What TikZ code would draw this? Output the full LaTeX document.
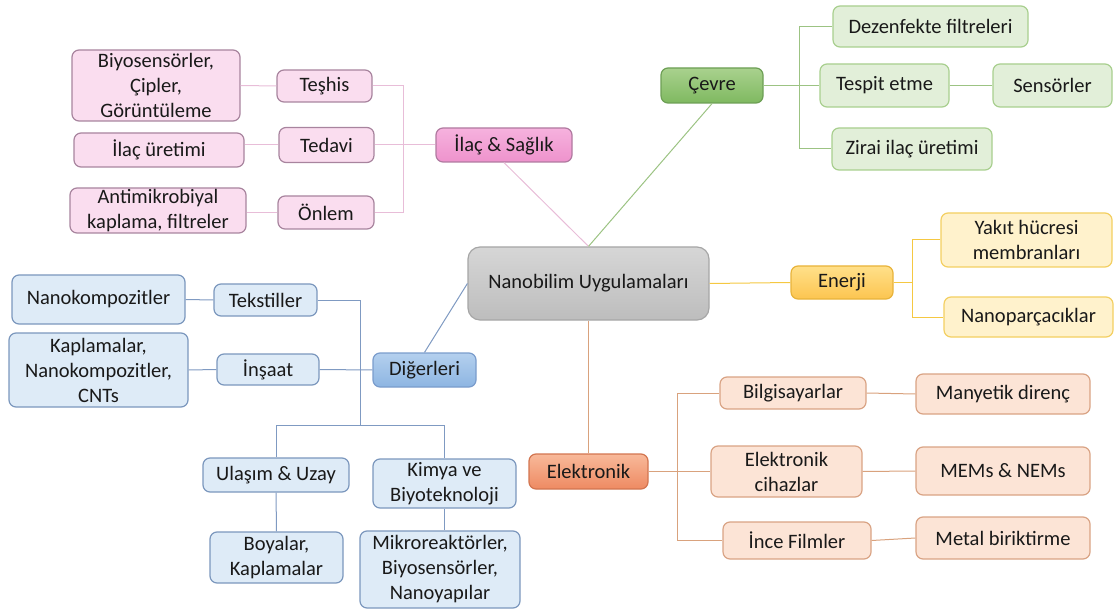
\documentclass[tikz,border=0pt]{standalone}
\usepackage{fontspec}
\setmainfont{Carlito}
\definecolor{pkL}{HTML}{FADDEF}
\definecolor{pkB}{HTML}{A8849E}
\definecolor{pkT}{HTML}{F6B2DE}
\definecolor{pkM}{HTML}{EE92CC}
\definecolor{pkD}{HTML}{B07AA0}
\definecolor{pkLine}{HTML}{E8BDD8}
\definecolor{gnL}{HTML}{E2EFD9}
\definecolor{gnB}{HTML}{A8CF8E}
\definecolor{gnT}{HTML}{A9D18E}
\definecolor{gnM}{HTML}{7FB960}
\definecolor{gnD}{HTML}{6D9F55}
\definecolor{gnLine}{HTML}{9CC383}
\definecolor{ylL}{HTML}{FFF2CC}
\definecolor{ylB}{HTML}{F3CF61}
\definecolor{ylT}{HTML}{FFE08A}
\definecolor{ylM}{HTML}{FCC550}
\definecolor{ylD}{HTML}{E8B33A}
\definecolor{ylLine}{HTML}{F5C842}
\definecolor{orL}{HTML}{FCE4D6}
\definecolor{orB}{HTML}{D9A384}
\definecolor{orT}{HTML}{F8B99A}
\definecolor{orM}{HTML}{EE8A62}
\definecolor{orD}{HTML}{D27550}
\definecolor{orLine}{HTML}{D9A27D}
\definecolor{blL}{HTML}{DEEBF7}
\definecolor{blB}{HTML}{7B97BD}
\definecolor{blT}{HTML}{B4D0EE}
\definecolor{blM}{HTML}{8DB5E2}
\definecolor{blD}{HTML}{7A9CCC}
\definecolor{blLine}{HTML}{7F9AC2}
\definecolor{gyT}{HTML}{D6D6D6}
\definecolor{gyM}{HTML}{BDBDBD}
\definecolor{gyD}{HTML}{A6A6A6}
\tikzset{
  box/.style={rounded corners=7pt, line width=1.2pt, align=center, inner sep=1pt,
    text=black!90, font=\fontsize{20.5}{25}\selectfont},
  sz/.style 2 args={minimum width=#1pt, minimum height=#2pt},
  pinkbox/.style={box, draw=pkB, fill=pkL},
  pinkmain/.style={box, draw=pkD, top color=pkT, bottom color=pkM},
  greenbox/.style={box, draw=gnB, fill=gnL},
  greenmain/.style={box, draw=gnD, top color=gnT, bottom color=gnM},
  yellowbox/.style={box, draw=ylB, fill=ylL},
  yellowmain/.style={box, draw=ylD, top color=ylT, bottom color=ylM},
  orangebox/.style={box, draw=orB, fill=orL},
  orangemain/.style={box, draw=orD, top color=orT, bottom color=orM},
  bluebox/.style={box, draw=blB, fill=blL},
  bluemain/.style={box, draw=blD, top color=blT, bottom color=blM},
  centerbox/.style={box, rounded corners=12pt, draw=gyD, top color=gyT, bottom color=gyM},
  conn/.style={line width=1pt},
}
\begin{document}
\begin{tikzpicture}[x=1pt,y=-1pt]
\useasboundingbox (0,0) rectangle (1115,609);

% center
\node[centerbox, sz={241}{73}] (center) at (588.5,283.5) {Nanobilim Uygulamaları};

% pink branch
\node[pinkmain, sz={136}{34}] (ilac) at (504,145) {İlaç \& Sağlık};
\node[pinkbox, sz={95}{32}] (teshis) at (324.5,86) {Teşhis};
\node[pinkbox, sz={95}{35}] (tedavi) at (326.5,145) {Tedavi};
\node[pinkbox, sz={96}{33}] (onlem) at (326,212.5) {Önlem};
\node[pinkbox, sz={168}{71}] (bio) at (156,85.5) {Biyosensörler,\\Çipler,\\Görüntüleme};
\node[pinkbox, sz={170}{34}] (ilacur) at (159,150) {İlaç üretimi};
\node[pinkbox, sz={176}{45}] (anti) at (158,210.5) {Antimikrobiyal\\kaplama, filtreler};

% green branch
\node[greenmain, sz={102}{35}] (cevre) at (712,85.5) {Çevre};
\node[greenbox, sz={195}{41}] (dez) at (930.5,26.5) {Dezenfekte filtreleri};
\node[greenbox, sz={129}{43}] (tespit) at (884.5,85.5) {Tespit etme};
\node[greenbox, sz={119}{43}] (sens) at (1052.5,85.5) {Sensörler};
\node[greenbox, sz={160}{42}] (zirai) at (912,149) {Zirai ilaç üretimi};

% yellow branch
\node[yellowmain, sz={102}{33}] (enerji) at (842,282.5) {Enerji};
\node[yellowbox, sz={171}{54}] (yakit) at (1026.5,240) {Yakıt hücresi\\membranları};
\node[yellowbox, sz={169}{40}] (npar) at (1028.5,317) {Nanoparçacıklar};

% orange branch
\node[orangemain, sz={119}{35}] (elek) at (588.5,471.5) {Elektronik};
\node[orangebox, sz={146}{32}] (bilg) at (793,393) {Bilgisayarlar};
\node[orangebox, sz={151}{51}] (ecih) at (786.5,471.5) {Elektronik\\cihazlar};
\node[orangebox, sz={148}{37}] (ince) at (797,540.5) {İnce Filmler};
\node[orangebox, sz={174}{40}] (many) at (1003,394) {Manyetik direnç};
\node[orangebox, sz={174}{48}] (mems) at (1003,471) {MEMs \& NEMs};
\node[orangebox, sz={174}{42}] (metal) at (1003,538) {Metal biriktirme};

% blue branch
\node[bluemain, sz={103}{34}] (dig) at (424.5,370) {Diğerleri};
\node[bluebox, sz={103}{32}] (teks) at (265.5,300) {Tekstiller};
\node[bluebox, sz={102}{31}] (insaat) at (268,369.5) {İnşaat};
\node[bluebox, sz={173}{49}] (nk) at (98.5,299.5) {Nanokompozitler};
\node[bluebox, sz={179}{74}] (kap) at (98.5,370) {Kaplamalar,\\Nanokompozitler,\\CNTs};
\node[bluebox, sz={146}{34}] (ulas) at (276,475) {Ulaşım \& Uzay};
\node[bluebox, sz={143}{49}] (kimya) at (444.5,483.5) {Kimya ve\\Biyoteknoloji};
\node[bluebox, sz={133}{51}] (boy) at (276.5,557.5) {Boyalar,\\Kaplamalar};
\node[bluebox, sz={160}{77}] (mikro) at (440,569.5) {Mikroreaktörler,\\Biyosensörler,\\Nanoyapılar};

% trunk coordinates
\coordinate (pt) at (403,0);
\coordinate (gt) at (799,0);
\coordinate (et) at (912,0);
\coordinate (elt) at (677,0);
\coordinate (bj) at (360,425);

% pink connectors
\draw[conn, pkLine] (ilac.south) -- (center.north);
\draw[conn, pkLine] (teshis.east) -- (teshis.east -| pt) -- (onlem.east -| pt) -- (onlem.east);
\draw[conn, pkLine] (tedavi.east) -- (ilac.west);
\draw[conn, pkLine] (teshis.west) -- (bio.east);
\draw[conn, pkLine] (tedavi.west) -- (tedavi.west -| ilacur.east);
\draw[conn, pkLine] (onlem.west) -- (onlem.west -| anti.east);

% green connectors
\draw[conn, gnLine] (cevre.south) -- (center.north);
\draw[conn, gnLine] (dez.west) -- (dez.west -| gt) -- (zirai.west -| gt) -- (zirai.west);
\draw[conn, gnLine] (cevre.east) -- (tespit.west);
\draw[conn, gnLine] (tespit.east) -- (sens.west);

% yellow connectors
\draw[conn, ylLine] (center.east) -- (enerji.west);
\draw[conn, ylLine] (yakit.west) -- (yakit.west -| et) -- (npar.west -| et) -- (npar.west);
\draw[conn, ylLine] (enerji.east) -- (enerji.east -| et);

% orange connectors
\draw[conn, orLine] (center.south) -- (elek.north);
\draw[conn, orLine] (bilg.west) -- (bilg.west -| elt) -- (ince.west -| elt) -- (ince.west);
\draw[conn, orLine] (elek.east) -- (ecih.west);
\draw[conn, orLine] (bilg.east) -- (many.west);
\draw[conn, orLine] (ecih.east) -- (mems.west);
\draw[conn, orLine] (ince.east) -- (metal.west);

% blue connectors
\draw[conn, blLine] (center.west) -- (dig.north);
\draw[conn, blLine] (teks.east) -| (bj);
\draw[conn, blLine] (ulas.north) |- (bj);
\draw[conn, blLine] (kimya.north) |- (bj);
\draw[conn, blLine] (insaat.east) -- (dig.west);
\draw[conn, blLine] (nk.east) -- (teks.west);
\draw[conn, blLine] (kap.east) -- (insaat.west);
\draw[conn, blLine] (ulas.south) -- (boy.north);
\draw[conn, blLine] (kimya.south) -- (kimya.south |- mikro.north);
\end{tikzpicture}
\end{document}
